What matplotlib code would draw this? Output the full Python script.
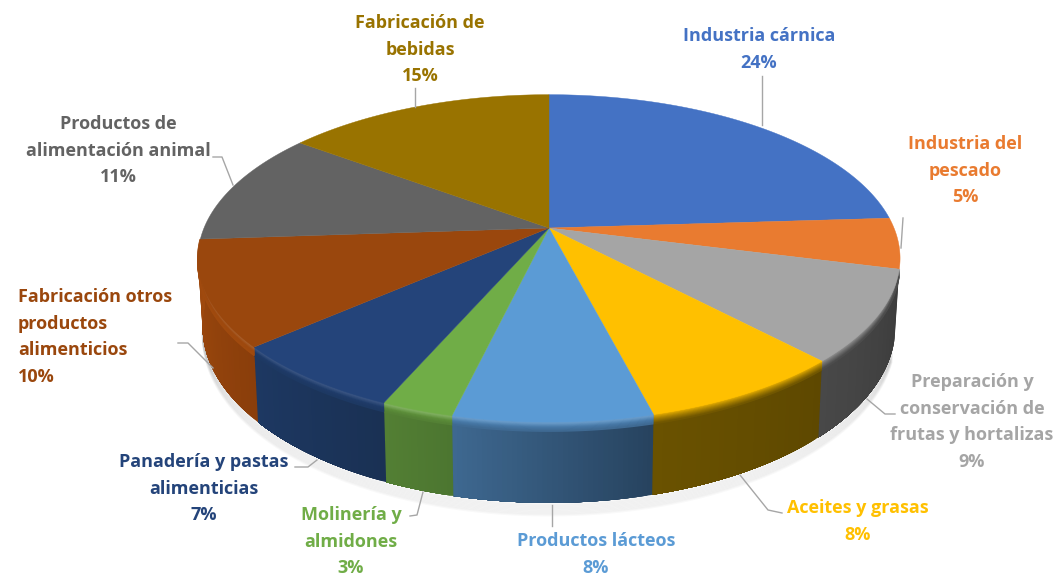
import matplotlib
matplotlib.use("Agg")
import matplotlib.pyplot as plt
from matplotlib.patches import Polygon
from matplotlib.colors import to_rgb
import numpy as np

plt.rcParams["font.family"] = ["Open Sans", "DejaVu Sans"]

# slice sizes, the printed labels are rounded
values = [24, 5, 9, 8, 7.7, 2.8, 7, 10.4, 11.3, 14.8]
pct_labels = ["24%", "5%", "9%", "8%", "8%", "3%", "7%", "10%", "11%", "15%"]
names = ["Industria cárnica", "Industria del\npescado",
         "Preparación y\nconservación de\nfrutas y hortalizas",
         "Aceites y grasas", "Productos lácteos", "Molinería y\nalmidones",
         "Panadería y pastas\nalimenticias",
         "Fabricación otros\nproductos\nalimenticios",
         "Productos de\nalimentación animal", "Fabricación de\nbebidas"]
colors = ["#4472C4", "#E97B30", "#A5A5A5", "#FFC000", "#5B9BD5",
          "#70AD47", "#24447A", "#9A470D", "#636363", "#997300"]
# wall colour at the right and left end of each slice
wall_right = ["#2a4578", "#8e4a1d", "#3c3c3c", "#5e4800", "#27435f",
              "#4c7630", "#1a3154", "#8a3e0b", "#444444", "#665000"]
wall_left = ["#2a4578", "#8e4a1d", "#484848", "#6a5200", "#3e6890",
             "#537f34", "#1d3862", "#a04a0e", "#444444", "#665000"]
glow = [0, 0, 0, 0, 0.12, 0.15, 0.1, 0.12, 0, 0]
has_wall = [False, False, True, True, True, True, True, True, False, False]

# label x, y of the first line, alignment
label_x = [759, 965, 972, 858, 596, 351, 204, 18, 118, 420]
label_y = [36, 144, 382, 508, 541, 515, 462, 297, 124, 23]
label_ha = ["center"] * 7 + ["left"] + ["center"] * 2
leaders = [[(762, 76), (762, 125)],
           [(903, 218), (901, 248)],
           [(867, 399), (885, 414), (895, 414)],
           [(740, 475), (768, 510), (782, 513)],
           [(552, 505), (552, 526)],
           [(423, 492), (417, 515), (410, 516)],
           [(317, 460), (308, 467), (295, 467)],
           [(213, 368), (188, 343), (178, 343)],
           [(233, 185), (222, 157), (213, 157)],
           [(415, 88), (415, 107)]]

cx, cy = 549, 228
R, B, K = 345, 158, 0.185
T = 66


def project(theta, depth=0.0):
    x, y = np.sin(theta), np.cos(theta)
    w = 1 + K * y
    # the lower rim is a little narrower than the top one
    return np.column_stack([cx + R * x / w * (1 - 0.0002 * depth),
                            cy - B * y / w + depth / w])


def blend(c1, c2, t):
    return tuple((1 - t) * a + t * b for a, b in zip(to_rgb(c1), to_rgb(c2)))


fig = plt.figure(figsize=(10.59, 5.77), dpi=100)
ax = fig.add_axes([0, 0, 1, 1])
ax.set_xlim(0, 1059)
ax.set_ylim(577, 0)
ax.axis("off")

edges = np.cumsum([0] + values) / sum(values) * 2 * np.pi

# soft shadow below the front wall
arc = np.linspace(1.9, 4.5, 200)
for s in range(1, 11):
    pts = project(arc, T + s * 1.0)
    ax.plot(pts[:, 0], pts[:, 1], color="black", alpha=0.022, lw=2.0, zorder=1)

# walls, then the bevel on their upper edge
for i in range(len(values)):
    if not has_wall[i]:
        continue
    ang = np.linspace(edges[i], edges[i + 1], 41)
    for j in range(40):
        # each strip runs to the end of the slice so no seams show
        part = ang[j:]
        poly = np.vstack([project(part), project(part[::-1], T)])
        c = blend(wall_right[i], wall_left[i], j / 39)
        ax.add_patch(Polygon(poly, closed=True, fc=c, ec="none", zorder=2))
    for d in np.arange(0, 8, 0.75):
        t = d / 8
        c = blend(colors[i], wall_left[i], t ** 0.7)
        c = blend(c, "white", glow[i] * max(0, 1 - abs(d - 1.5) / 3))
        pts = project(ang, d)
        ax.plot(pts[:, 0], pts[:, 1], color=c, lw=1.2, zorder=3,
                solid_capstyle="butt")

# top face
for i in range(len(values)):
    ang = np.linspace(edges[i], edges[i + 1], 120)
    poly = np.vstack([[cx, cy], project(ang)])
    ax.add_patch(Polygon(poly, closed=True, fc=colors[i], ec=colors[i],
                         lw=0.3, zorder=4))

# leader lines and labels
for pts in leaders:
    xs, ys = zip(*pts)
    ax.plot(xs, ys, color="#A6A6A6", lw=1.0, zorder=5)

for i, name in enumerate(names):
    lines = name.split("\n") + [pct_labels[i]]
    for n, line in enumerate(lines):
        ax.text(label_x[i], label_y[i] + n * 26.6, line, color=colors[i],
                fontsize=13, fontweight="bold", ha=label_ha[i], va="center",
                zorder=6)

fig.savefig("out.png", dpi=100)
